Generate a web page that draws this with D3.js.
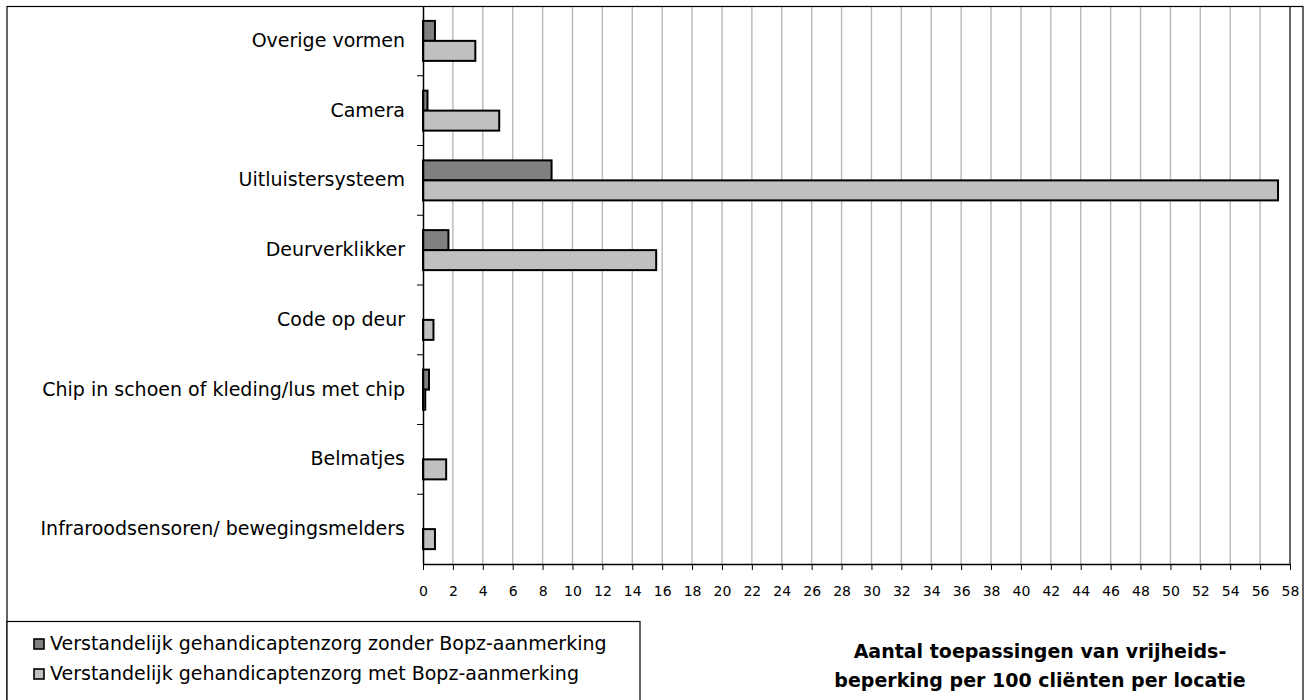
<!DOCTYPE html>
<html>
<head>
<meta charset="utf-8">
<script src="https://cdn.jsdelivr.net/npm/d3@7"></script>
<style>
    html, body { margin: 0; padding: 0; background: #fff; }
</style>
</head>
<body>
<div id="chart"></div>
<script>
// categories, top to bottom as they appear in the chart
const categories = [
    "Overige vormen",
    "Camera",
    "Uitluistersysteem",
    "Deurverklikker",
    "Code op deur",
    "Chip in schoen of kleding/lus met chip",
    "Belmatjes",
    "Infraroodsensoren/ bewegingsmelders"
];

const seriesNames = [
    "Verstandelijk gehandicaptenzorg zonder Bopz-aanmerking",
    "Verstandelijk gehandicaptenzorg met Bopz-aanmerking"
];

const zonderBopz = [0.8, 0.3, 8.6, 1.7, 0, 0.4, 0, 0];
const metBopz = [3.5, 5.1, 57.2, 15.6, 0.7, 0.15, 1.55, 0.8];

const xTicks = d3.range(0, 59, 2);

const titleLines = [
    "Aantal toepassingen van vrijheids-",
    "beperking per 100 cliënten per locatie"
];

const chart = {
    width: 1316,
    height: 700,
    plot: { left: 423, right: 1290, top: 6, bottom: 564 },
    colors: ["#808080", "#c0c0c0"],
    font: "DejaVu Sans, Verdana, sans-serif",

    draw: function (tagid) {
        const p = this.plot;

        const svg = d3.select(tagid).append("svg")
            .attr("width", this.width)
            .attr("height", this.height)
            .style("font-family", this.font);

        svg.append("rect")
            .attr("width", this.width)
            .attr("height", this.height)
            .attr("fill", "#fff");

        const x = d3.scaleLinear()
            .domain([0, 58])
            .range([p.left, p.right]);

        const y = d3.scaleBand()
            .domain(categories)
            .range([p.top, p.bottom]);

        // two bars per category, 20px each, centred in the band
        const y1 = d3.scaleBand()
            .domain([0, 1])
            .range([y.bandwidth() / 2 - 20, y.bandwidth() / 2 + 20]);

        // vertical gridlines
        svg.append("g")
            .selectAll("line")
            .data(xTicks.slice(1))
            .join("line")
            .attr("x1", d => x(d))
            .attr("x2", d => x(d))
            .attr("y1", p.top)
            .attr("y2", p.bottom)
            .attr("stroke", d => d === 58 ? "#000" : "#b8b8b8")
            .attr("stroke-width", d => d === 58 ? 1.2 : 1.4);

        // bars
        const rows = categories.map((c, i) => ({ cat: c, values: [zonderBopz[i], metBopz[i]] }));

        svg.append("g")
            .selectAll("g")
            .data(rows)
            .join("g")
            .attr("transform", d => `translate(0,${y(d.cat)})`)
            .selectAll("rect")
            .data(d => d.values.map((v, s) => ({ v, s })).filter(e => e.v > 0))
            .join("rect")
            .attr("x", x(0))
            .attr("y", d => y1(d.s))
            .attr("width", d => x(d.v) - x(0))
            .attr("height", y1.bandwidth())
            .attr("fill", d => this.colors[d.s])
            .attr("stroke", "#000")
            .attr("stroke-width", 2);

        // x axis
        const xAxis = svg.append("g")
            .attr("transform", `translate(0,${p.bottom})`)
            .call(d3.axisBottom(x).tickValues(xTicks).tickSize(6).tickPadding(16).tickSizeOuter(0));
        xAxis.select(".domain").attr("stroke-width", 1.5);
        xAxis.selectAll("text")
            .style("font-family", this.font)
            .style("font-size", "14px")
            .attr("fill", "#000");

        // y axis: labels from the band scale, ticks at band boundaries
        const yAxis = svg.append("g")
            .attr("transform", `translate(${p.left},0)`)
            .call(d3.axisLeft(y).tickSize(0).tickPadding(18));
        yAxis.select(".domain").attr("stroke-width", 1.5);
        yAxis.selectAll("text")
            .style("font-family", this.font)
            .style("font-size", "19px")
            .attr("fill", "#000");

        svg.append("g")
            .selectAll("line")
            .data(categories.slice(1).map(c => y(c)))
            .join("line")
            .attr("x1", p.left - 6)
            .attr("x2", p.left)
            .attr("y1", d => d)
            .attr("y2", d => d)
            .attr("stroke", "#000")
            .attr("stroke-width", 1);

        // outer chart border
        svg.append("rect")
            .attr("x", 7)
            .attr("y", 6.5)
            .attr("width", 1296)
            .attr("height", 720)
            .attr("fill", "none")
            .attr("stroke", "#000")
            .attr("stroke-width", 1.2);

        // legend
        const legend = svg.append("g");
        legend.append("rect")
            .attr("x", 7)
            .attr("y", 621.5)
            .attr("width", 633)
            .attr("height", 120)
            .attr("fill", "#fff")
            .attr("stroke", "#000")
            .attr("stroke-width", 1.2);

        const item = legend.selectAll("g.item")
            .data(seriesNames)
            .join("g")
            .attr("class", "item")
            .attr("transform", (d, i) => `translate(0,${650 + i * 30})`);

        item.append("rect")
            .attr("x", 34)
            .attr("y", -11)
            .attr("width", 10)
            .attr("height", 10)
            .attr("fill", (d, i) => this.colors[i])
            .attr("stroke", "#000")
            .attr("stroke-width", 1.6);

        item.append("text")
            .attr("x", 50)
            .attr("y", 0)
            .style("font-size", "19px")
            .text(d => d);

        // title
        svg.append("g")
            .selectAll("text")
            .data(titleLines)
            .join("text")
            .attr("x", 1040)
            .attr("y", (d, i) => 658 + i * 29)
            .attr("text-anchor", "middle")
            .style("font-size", "19px")
            .style("font-weight", "bold")
            .text(d => d);
    }
};

chart.draw("#chart");
</script>
</body>
</html>
